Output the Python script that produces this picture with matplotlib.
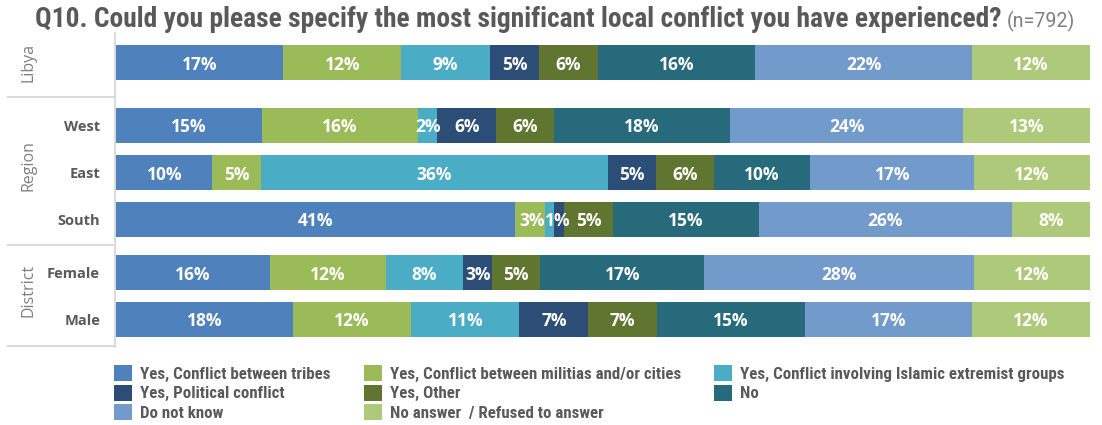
import matplotlib
matplotlib.use("Agg")
import matplotlib.pyplot as plt
from matplotlib.patches import Patch
from matplotlib.lines import Line2D

# ---- data -------------------------------------------------------------
rows = ["Libya", "West", "East", "South", "Female", "Male"]
categories = [
    "Yes, Conflict between tribes",
    "Yes, Conflict between militias and/or cities",
    "Yes, Conflict involving Islamic extremist groups",
    "Yes, Political conflict",
    "Yes, Other",
    "No",
    "Do not know",
    "No answer  / Refused to answer",
]
tribes    = [17, 15, 10, 41, 16, 18]
militias  = [12, 16, 5, 3, 12, 12]
islamic   = [9, 2, 36, 1, 8, 11]
political = [5, 6, 5, 1, 3, 7]
other     = [6, 6, 6, 5, 5, 7]
no        = [16, 18, 10, 15, 17, 15]
dont_know = [22, 24, 17, 26, 28, 17]
no_answer = [12, 13, 12, 8, 12, 12]
series = [tribes, militias, islamic, political, other, no, dont_know, no_answer]

groups = ["Libya", "Region", "District"]
title_main = "Q10. Could you please specify the most significant local conflict you have experienced?"
title_n = "(n=792)"

colors = ["#4F81BD", "#9BBB59", "#4BACC6", "#2C4D75",
          "#5F7530", "#276A7C", "#729ACA", "#AFC97A"]

# ---- layout (pixel coordinates of a 1102 x 425 canvas) -----------------
W, H = 1102, 425
row_y = [62.5, 125.5, 172.5, 219.5, 272.5, 319.5]
bar_h = 35
group_y = [62, 166, 290]
sep_y = [97, 245, 346]
hidden_labels = {(3, 3)}               # (row, series) left unlabeled
label_align = {(3, 1): "right", (3, 2): "left"}  # crowded thin segments

COND = ["Roboto Condensed", "Open Sans Condensed", "Liberation Sans Narrow", "Lato"]
LBL = ["Open Sans", "DejaVu Sans"]
GRAY = "#595959"

fig = plt.figure(figsize=(W / 100, H / 100), dpi=100)
fig.patch.set_facecolor("white")

top_px, bot_px = 40, 346
left_px, right_px = 116, 1090
ax = fig.add_axes([left_px / W, 1 - bot_px / H,
                   (right_px - left_px) / W, (bot_px - top_px) / H])
ax.set_xlim(0, 100)
ax.set_ylim(bot_px, top_px)
ax.axis("off")

for r, name in enumerate(rows):
    total = sum(s[r] for s in series)
    left = 0.0
    for k, s in enumerate(series):
        w = s[r] / total * 100
        ax.barh(row_y[r], w, left=left, height=bar_h, color=colors[k],
                edgecolor="none")
        if (r, k) not in hidden_labels:
            ha = label_align.get((r, k), "center")
            xt = {"center": left + w / 2, "left": left, "right": left + w}[ha]
            ax.text(xt, row_y[r], f"{s[r]}%", ha=ha,
                    va="center_baseline", color="white", fontsize=12.5,
                    fontweight="bold", family=LBL)
        left += w


def px(x, y):
    return x / W, 1 - y / H


# frame lines on the left
line_c = "#D9D9D9"
fig.add_artist(Line2D([115 / W, 115 / W], [1 - 33 / H, 1 - 347 / H],
                      color=line_c, lw=1.4))
for y in sep_y:
    fig.add_artist(Line2D([8 / W, 115 / W], [1 - y / H, 1 - y / H],
                          color=line_c, lw=1.4))

# row labels
for r, name in enumerate(rows):
    if name == "Libya":
        continue
    x, y = px(100, row_y[r])
    fig.text(x, y, name, ha="right", va="center_baseline", color=GRAY,
             fontsize=10.5, fontweight="bold", family=LBL)

# group labels
for g, y0 in zip(groups, group_y):
    x, y = px(28, y0)
    fig.text(x, y, g, ha="center", va="center", rotation=90,
             color="#7F7F7F", fontsize=11.5, family=LBL)


def fit_width(text, target_px, size):
    """Scale a text's font size so that it spans target_px."""
    fig.canvas.draw()
    w = text.get_window_extent().width
    text.set_fontsize(size * target_px / w)
    return size * target_px / w


# title
x, y = px(35, 27)
t1 = fig.text(x, y, title_main, ha="left", va="baseline", color=GRAY,
              fontsize=18, fontweight="bold", family=COND)
ts = fit_width(t1, 967, 18)
fig.canvas.draw()
bb = t1.get_window_extent()
t2 = fig.text((bb.x1 + 5) / W, y, title_n, ha="left", va="baseline",
              color="#7F7F7F", fontsize=12, family=["Roboto", "DejaVu Sans"])
fit_width(t2, 68, 12)

# legend font sized so the first entry spans its width in the layout
probe = fig.text(0, 0, categories[0], fontsize=12, fontweight="bold",
                 family=COND)
leg_size = fit_width(probe, 190, 12)
probe.remove()

handles = [Patch(facecolor=c, edgecolor="none") for c in colors]
order = [0, 3, 6, 1, 4, 7, 2, 5]
fs_px = leg_size * 100 / 72
leg = fig.legend([handles[i] for i in order], [categories[i] for i in order],
                 ncol=3, loc="upper left", bbox_to_anchor=(114 / W, 1 - 365 / H),
                 frameon=False, handlelength=18 / fs_px, handleheight=18 / fs_px,
                 handletextpad=8 / fs_px, columnspacing=33 / fs_px,
                 labelspacing=3 / fs_px,
                 prop={"family": COND, "weight": "bold", "size": leg_size},
                 borderpad=0, borderaxespad=0)
for t in leg.get_texts():
    t.set_color(GRAY)

fig.savefig("out.png", dpi=100, facecolor="white")
